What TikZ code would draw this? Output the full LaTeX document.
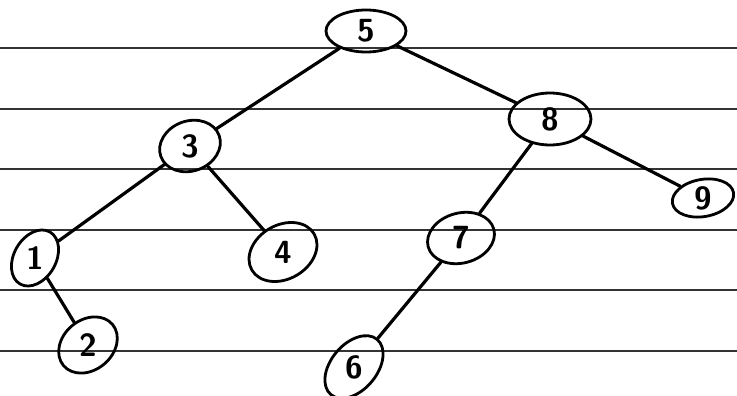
\documentclass[tikz,border=0pt]{standalone}
\usetikzlibrary{shapes.geometric}
\begin{document}
\begin{tikzpicture}[x=1pt,y=1pt,
  rule/.style={line width=1.3pt,black!80},
  bubble/.style={ellipse,draw,line width=2.8pt,inner sep=0pt,
    font=\sffamily\bfseries\fontsize{32}{32}\selectfont},
  link/.style={line width=3.2pt,line cap=round}]
\useasboundingbox (0,0) rectangle (737,-396);
\fill[white] (0,0) rectangle (737,-396);
% ruled paper
\foreach \y in {48,109,169,230,290,351}
  \draw[rule] (0,-\y) -- (737,-\y);
% tree nodes: name, centre, size, tilt
\node[bubble,minimum width=80pt,minimum height=42pt] (n5) at (366,-31) {5};
\node[bubble,minimum width=62pt,minimum height=50pt,rotate=20] (n3) at (190,-146) {\rotatebox{-20}{3}};
\node[bubble,minimum width=82pt,minimum height=52pt] (n8) at (550,-119) {8};
\node[bubble,minimum width=62pt,minimum height=32pt,rotate=10] (n9) at (703,-198) {\rotatebox{-10}{9}};
\node[bubble,minimum width=60pt,minimum height=42pt,rotate=60] (n1) at (35,-258) {\rotatebox{-60}{1}};
\node[bubble,minimum width=72pt,minimum height=54pt,rotate=30] (n4) at (283,-252) {\rotatebox{-30}{4}};
\node[bubble,minimum width=64pt,minimum height=50pt,rotate=40] (n2) at (88,-345) {\rotatebox{-40}{2}};
\node[bubble,minimum width=68pt,minimum height=50pt,rotate=15] (n7) at (461,-238) {\rotatebox{-15}{7}};
\node[bubble,minimum width=72pt,minimum height=46pt,rotate=50] (n6) at (354,-367) {\rotatebox{-50}{6}};
% edges
\draw[link] (n5) -- (n3);
\draw[link] (n5) -- (n8);
\draw[link] (n3) -- (n1);
\draw[link] (n3) -- (n4);
\draw[link] (n8) -- (n7);
\draw[link] (n8) -- (n9);
\draw[link] (n1) -- (n2);
\draw[link] (n7) -- (n6);
\end{tikzpicture}
\end{document}
